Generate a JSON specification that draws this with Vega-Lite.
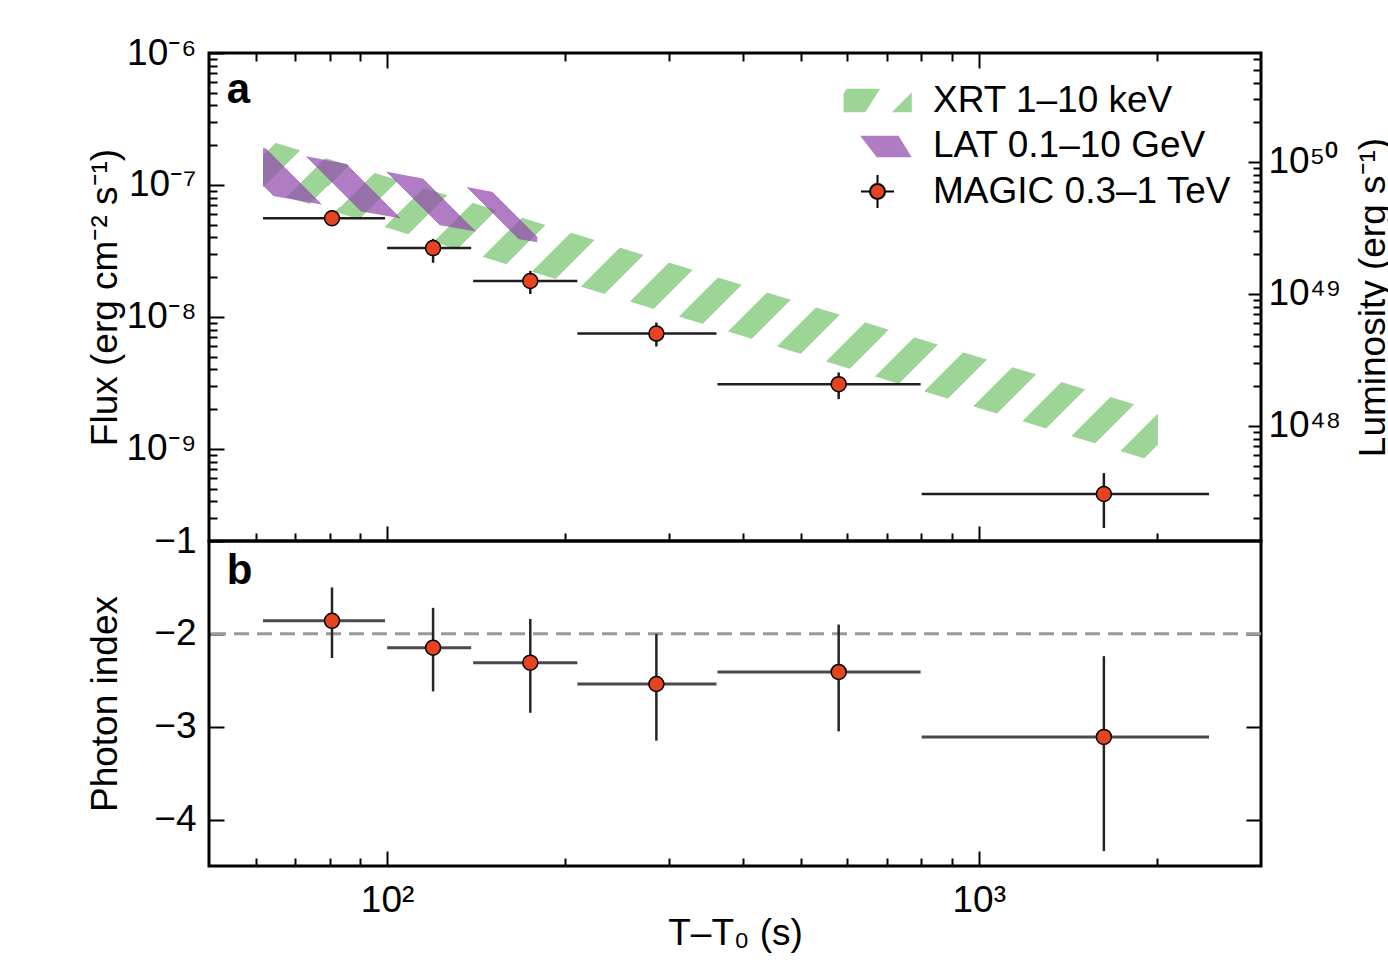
{
  "$schema": "https://vega.github.io/schema/vega-lite/v6.json",
  "autosize": {"type": "pad"},
  "padding": {"left": 84, "top": 32, "right": 0, "bottom": 0},
  "background": "white",
  "spacing": 0,
  "bounds": "flush",
  "config": {
    "font": "Liberation Sans",
    "view": {"stroke": "black", "strokeWidth": 3},
    "axis": {"domain": false, "grid": false, "labelFont": "Liberation Sans", "titleFont": "Liberation Sans", "labelFontSize": 37, "titleFontSize": 37, "titleFontWeight": "normal", "labelColor": "black", "titleColor": "black", "tickColor": "black", "tickWidth": 2, "labelOverlap": false, "labelFlush": false},
    "legend": {"orient": "top-right", "offset": 29, "padding": 0, "labelFont": "Liberation Sans", "labelFontSize": 37, "labelColor": "black", "labelOffset": 37, "rowPadding": 7, "symbolSize": 225, "symbolStrokeWidth": 2, "symbolOpacity": 1, "labelLimit": 0}
  },
  "datasets": {
    "magic": [
      {"t": 80.7, "tlo": 61.7, "thi": 99.2, "f": 5.59e-8, "flo": 4.98e-8, "fhi": 6.35e-8, "g": -1.86, "glo": -2.26, "ghi": -1.50},
      {"t": 119.6, "tlo": 100, "thi": 138.7, "f": 3.32e-8, "flo": 2.57e-8, "fhi": 3.90e-8, "g": -2.15, "glo": -2.62, "ghi": -1.72},
      {"t": 174.6, "tlo": 139.8, "thi": 209.7, "f": 1.87e-8, "flo": 1.49e-8, "fhi": 2.23e-8, "g": -2.31, "glo": -2.85, "ghi": -1.84},
      {"t": 285.2, "tlo": 209.7, "thi": 360.4, "f": 7.47e-9, "flo": 5.96e-9, "fhi": 9.06e-9, "g": -2.54, "glo": -3.15, "ghi": -2.00},
      {"t": 579.8, "tlo": 361.8, "thi": 797.6, "f": 3.09e-9, "flo": 2.38e-9, "fhi": 3.79e-9, "g": -2.41, "glo": -3.05, "ghi": -1.90},
      {"t": 1627.6, "tlo": 800.8, "thi": 2450.5, "f": 4.54e-10, "flo": 2.51e-10, "fhi": 6.55e-10, "g": -3.11, "glo": -4.34, "ghi": -2.24}
    ],
    "xrt": [
      {"t": 61.7, "hi": 2.228e-7, "lo": 9.155e-8},
      {"t": 2008.7, "hi": 1.916e-9, "lo": 7.867e-10}
    ],
    "lat": [
      {"t": 61.7, "hi": 1.901e-7, "lo": 8.50e-8},
      {"t": 179.4, "hi": 7.63e-8, "lo": 3.67e-8}
    ],
    "legend": [
      {"series": "XRT 1–10 keV"},
      {"series": "LAT 0.1–10 GeV"},
      {"series": "MAGIC 0.3–1 TeV"}
    ],
    "labA": [{"label": "a", "t": 53.6, "f": 4.15e-7}],
    "labB": [{"label": "b", "t": 53.6, "g": -1.465}],
    "ref": [{"ref": -2}]
  },
  "vconcat": [
    {
      "width": 1052,
      "height": 488,
      "layer": [
        {
          "data": {"name": "xrt"},
          "mark": {"type": "area", "fill": {"gradient": "linear", "x1": 0, "y1": 0, "x2": 1.20421, "y2": 0.43598, "stops": [
            {"offset": 0, "color": "rgba(255,255,255,0)"},
            {"offset": 0.0139, "color": "rgba(255,255,255,0)"}, {"offset": 0.0139, "color": "#9dd596"}, {"offset": 0.0394, "color": "#9dd596"}, {"offset": 0.0394, "color": "rgba(255,255,255,0)"},
            {"offset": 0.0665, "color": "rgba(255,255,255,0)"}, {"offset": 0.0665, "color": "#9dd596"}, {"offset": 0.0919, "color": "#9dd596"}, {"offset": 0.0919, "color": "rgba(255,255,255,0)"},
            {"offset": 0.1190, "color": "rgba(255,255,255,0)"}, {"offset": 0.1190, "color": "#9dd596"}, {"offset": 0.1445, "color": "#9dd596"}, {"offset": 0.1445, "color": "rgba(255,255,255,0)"},
            {"offset": 0.1716, "color": "rgba(255,255,255,0)"}, {"offset": 0.1716, "color": "#9dd596"}, {"offset": 0.1970, "color": "#9dd596"}, {"offset": 0.1970, "color": "rgba(255,255,255,0)"},
            {"offset": 0.2241, "color": "rgba(255,255,255,0)"}, {"offset": 0.2241, "color": "#9dd596"}, {"offset": 0.2496, "color": "#9dd596"}, {"offset": 0.2496, "color": "rgba(255,255,255,0)"},
            {"offset": 0.2767, "color": "rgba(255,255,255,0)"}, {"offset": 0.2767, "color": "#9dd596"}, {"offset": 0.3022, "color": "#9dd596"}, {"offset": 0.3022, "color": "rgba(255,255,255,0)"},
            {"offset": 0.3293, "color": "rgba(255,255,255,0)"}, {"offset": 0.3293, "color": "#9dd596"}, {"offset": 0.3547, "color": "#9dd596"}, {"offset": 0.3547, "color": "rgba(255,255,255,0)"},
            {"offset": 0.3818, "color": "rgba(255,255,255,0)"}, {"offset": 0.3818, "color": "#9dd596"}, {"offset": 0.4073, "color": "#9dd596"}, {"offset": 0.4073, "color": "rgba(255,255,255,0)"},
            {"offset": 0.4344, "color": "rgba(255,255,255,0)"}, {"offset": 0.4344, "color": "#9dd596"}, {"offset": 0.4599, "color": "#9dd596"}, {"offset": 0.4599, "color": "rgba(255,255,255,0)"},
            {"offset": 0.4869, "color": "rgba(255,255,255,0)"}, {"offset": 0.4869, "color": "#9dd596"}, {"offset": 0.5124, "color": "#9dd596"}, {"offset": 0.5124, "color": "rgba(255,255,255,0)"},
            {"offset": 0.5395, "color": "rgba(255,255,255,0)"}, {"offset": 0.5395, "color": "#9dd596"}, {"offset": 0.5650, "color": "#9dd596"}, {"offset": 0.5650, "color": "rgba(255,255,255,0)"},
            {"offset": 0.5921, "color": "rgba(255,255,255,0)"}, {"offset": 0.5921, "color": "#9dd596"}, {"offset": 0.6175, "color": "#9dd596"}, {"offset": 0.6175, "color": "rgba(255,255,255,0)"},
            {"offset": 0.6446, "color": "rgba(255,255,255,0)"}, {"offset": 0.6446, "color": "#9dd596"}, {"offset": 0.6701, "color": "#9dd596"}, {"offset": 0.6701, "color": "rgba(255,255,255,0)"},
            {"offset": 0.6972, "color": "rgba(255,255,255,0)"}, {"offset": 0.6972, "color": "#9dd596"}, {"offset": 0.7226, "color": "#9dd596"}, {"offset": 0.7226, "color": "rgba(255,255,255,0)"},
            {"offset": 0.7497, "color": "rgba(255,255,255,0)"}, {"offset": 0.7497, "color": "#9dd596"}, {"offset": 0.7752, "color": "#9dd596"}, {"offset": 0.7752, "color": "rgba(255,255,255,0)"},
            {"offset": 0.8023, "color": "rgba(255,255,255,0)"}, {"offset": 0.8023, "color": "#9dd596"}, {"offset": 0.8278, "color": "#9dd596"}, {"offset": 0.8278, "color": "rgba(255,255,255,0)"},
            {"offset": 0.8549, "color": "rgba(255,255,255,0)"}, {"offset": 0.8549, "color": "#9dd596"}, {"offset": 0.8803, "color": "#9dd596"}, {"offset": 0.8803, "color": "rgba(255,255,255,0)"},
            {"offset": 0.9074, "color": "rgba(255,255,255,0)"}, {"offset": 0.9074, "color": "#9dd596"}, {"offset": 0.9329, "color": "#9dd596"}, {"offset": 0.9329, "color": "rgba(255,255,255,0)"},
            {"offset": 0.9600, "color": "rgba(255,255,255,0)"}, {"offset": 0.9600, "color": "#9dd596"}, {"offset": 0.9854, "color": "#9dd596"}, {"offset": 0.9854, "color": "rgba(255,255,255,0)"},
            {"offset": 1, "color": "rgba(255,255,255,0)"}
          ]}},
          "encoding": {
            "x": {"field": "t", "type": "quantitative", "scale": {"type": "log", "domain": [50, 3000], "nice": false},
              "axis": {"orient": "bottom", "values": [60,70,80,90,100,200,300,400,500,600,700,800,900,1000,2000], "tickSize": {"condition": {"test": "datum.value == 100 || datum.value == 1000", "value": -15}, "value": -8}, "labels": false, "title": null}},
            "y": {"field": "hi", "type": "quantitative", "scale": {"type": "log", "domain": [2e-10, 1e-6], "nice": false},
              "axis": {"orient": "left", "values": [3e-10,4e-10,5e-10,6e-10,7e-10,8e-10,9e-10,1e-9,2e-9,3e-9,4e-9,5e-9,6e-9,7e-9,8e-9,9e-9,1e-8,2e-8,3e-8,4e-8,5e-8,6e-8,7e-8,8e-8,9e-8,1e-7,2e-7,3e-7,4e-7,5e-7,6e-7,7e-7,8e-7,9e-7,1e-6],
                "tickSize": {"condition": {"test": "abs(log(datum.value)/LN10 - round(log(datum.value)/LN10)) < 0.001", "value": -15}, "value": -8},
                "labelExpr": "abs(log(datum.value)/LN10 - round(log(datum.value)/LN10)) < 0.001 ? (round(log(datum.value)/LN10) == -6 ? '10⁻⁶' : round(log(datum.value)/LN10) == -7 ? '10⁻⁷' : round(log(datum.value)/LN10) == -8 ? '10⁻⁸' : '10⁻⁹') : ''",
                "labelPadding": 28, "title": "Flux (erg cm⁻² s⁻¹)", "titlePadding": 5, "minExtent": 80, "maxExtent": 80}},
            "y2": {"field": "lo"}
          }
        },
        {
          "data": {"name": "lat"},
          "mark": {"type": "area", "fillOpacity": 0.73, "fill": {"gradient": "linear", "x1": 0, "y1": 1, "x2": 1.2018, "y2": 0.5864, "stops": [
            {"offset": 0, "color": "rgba(255,255,255,0)"},
            {"offset": 0.1534, "color": "rgba(255,255,255,0)"}, {"offset": 0.1534, "color": "#934cae"}, {"offset": 0.2620, "color": "#934cae"}, {"offset": 0.2620, "color": "rgba(255,255,255,0)"},
            {"offset": 0.3489, "color": "rgba(255,255,255,0)"}, {"offset": 0.3489, "color": "#934cae"}, {"offset": 0.4385, "color": "#934cae"}, {"offset": 0.4385, "color": "rgba(255,255,255,0)"},
            {"offset": 0.5254, "color": "rgba(255,255,255,0)"}, {"offset": 0.5254, "color": "#934cae"}, {"offset": 0.6068, "color": "#934cae"}, {"offset": 0.6068, "color": "rgba(255,255,255,0)"},
            {"offset": 0.7019, "color": "rgba(255,255,255,0)"}, {"offset": 0.7019, "color": "#934cae"}, {"offset": 0.7589, "color": "#934cae"}, {"offset": 0.7589, "color": "rgba(255,255,255,0)"},
            {"offset": 1, "color": "rgba(255,255,255,0)"}
          ]}},
          "encoding": {
            "x": {"field": "t", "type": "quantitative", "scale": {"type": "log", "domain": [50, 3000], "nice": false}, "axis": null},
            "y": {"field": "hi", "type": "quantitative", "scale": {"type": "log", "domain": [2e-10, 1e-6], "nice": false}, "axis": null},
            "y2": {"field": "lo"}
          }
        },
        {
          "data": {"name": "magic"},
          "mark": {"type": "rule", "color": "#1e1e1e", "strokeWidth": 2.5},
          "encoding": {
            "x": {"field": "tlo", "type": "quantitative", "scale": {"type": "log", "domain": [50, 3000], "nice": false}, "axis": null},
            "x2": {"field": "thi"},
            "y": {"field": "f", "type": "quantitative", "scale": {"type": "log", "domain": [2e-10, 1e-6], "nice": false}, "axis": null}
          }
        },
        {
          "data": {"name": "magic"},
          "mark": {"type": "rule", "color": "#1e1e1e", "strokeWidth": 2.5},
          "encoding": {
            "x": {"field": "t", "type": "quantitative", "scale": {"type": "log", "domain": [50, 3000], "nice": false}, "axis": null},
            "y": {"field": "flo", "type": "quantitative", "scale": {"type": "log", "domain": [2e-10, 1e-6], "nice": false}, "axis": null},
            "y2": {"field": "fhi"}
          }
        },
        {
          "data": {"name": "magic"},
          "mark": {"type": "point", "shape": "circle", "filled": true, "fill": "#e64420", "stroke": "black", "strokeWidth": 1.5, "size": 225, "opacity": 1},
          "encoding": {
            "x": {"field": "t", "type": "quantitative", "scale": {"type": "log", "domain": [50, 3000], "nice": false}, "axis": null},
            "y": {"field": "f", "type": "quantitative", "scale": {"type": "log", "domain": [2e-10, 1e-6], "nice": false}, "axis": null}
          }
        },
        {
          "data": {"name": "labA"},
          "mark": {"type": "text", "font": "Liberation Sans", "fontSize": 42, "fontWeight": "bold", "align": "left", "baseline": "alphabetic", "color": "black"},
          "encoding": {
            "x": {"field": "t", "type": "quantitative", "scale": {"type": "log", "domain": [50, 3000], "nice": false}, "axis": null},
            "y": {"field": "f", "type": "quantitative", "scale": {"type": "log", "domain": [2e-10, 1e-6], "nice": false}, "axis": null},
            "text": {"field": "label"}
          }
        },
        {
          "data": {"name": "legend"},
          "mark": {"type": "point", "filled": true, "opacity": 0, "size": 225, "strokeWidth": 2},
          "encoding": {
            "shape": {"field": "series", "type": "nominal", "title": null, "scale": {"domain": ["XRT 1–10 keV", "LAT 0.1–10 GeV", "MAGIC 0.3–1 TeV"], "range": ["M-4.09,-1.56L0.36,-1.56L-1.64,1.56L-4.53,1.56L-4.53,-0.93ZM1.91,1.56L4.57,1.56L4.57,-1.11Z", "M-2.31,-1.31L2.8,-1.31L4.57,1.57L-0.09,1.57Z", "M-1,0A1,1,0,1,1,1,0A1,1,0,1,1,-1,0ZM-2.2,0L-1,0M1,0L2.2,0M0,-2.2L0,-1M0,1L0,2.2"]}},
            "fill": {"field": "series", "type": "nominal", "title": null, "scale": {"domain": ["XRT 1–10 keV", "LAT 0.1–10 GeV", "MAGIC 0.3–1 TeV"], "range": ["#9dd596", "#b07cc4", "#e64420"]}},
            "stroke": {"field": "series", "type": "nominal", "title": null, "scale": {"domain": ["XRT 1–10 keV", "LAT 0.1–10 GeV", "MAGIC 0.3–1 TeV"], "range": ["transparent", "transparent", "black"]}}
          }
        },
        {
          "data": {"values": [{}]},
          "mark": {"type": "point", "opacity": 0},
          "encoding": {
            "x": {"datum": 100, "type": "quantitative", "scale": {"type": "log", "domain": [50, 3000], "nice": false},
              "axis": {"orient": "top", "values": [60,70,80,90,100,200,300,400,500,600,700,800,900,1000,2000], "tickSize": {"condition": {"test": "datum.value == 100 || datum.value == 1000", "value": -15}, "value": -8}, "labels": false, "title": null}},
            "y": {"datum": 1e49, "type": "quantitative", "scale": {"type": "log", "domain": [1.3391e47, 6.6957e50], "nice": false},
              "axis": {"orient": "right", "values": [2e47,3e47,4e47,5e47,6e47,7e47,8e47,9e47,1e48,2e48,3e48,4e48,5e48,6e48,7e48,8e48,9e48,1e49,2e49,3e49,4e49,5e49,6e49,7e49,8e49,9e49,1e50,2e50,3e50,4e50,5e50,6e50],
                "tickSize": {"condition": {"test": "abs(log(datum.value)/LN10 - round(log(datum.value)/LN10)) < 0.001", "value": -13}, "value": -8},
                "labelExpr": "abs(log(datum.value)/LN10 - round(log(datum.value)/LN10)) < 0.001 ? (round(log(datum.value)/LN10) == 50 ? '10⁵⁰' : round(log(datum.value)/LN10) == 49 ? '10⁴⁹' : '10⁴⁸') : ''",
                "labelPadding": 20, "title": "Luminosity (erg s⁻¹)", "titleAngle": 270, "titleBaseline": "top", "titlePadding": 4, "minExtent": 90, "maxExtent": 90}}
          }
        }
      ],
      "resolve": {"scale": {"y": "independent"}, "axis": {"x": "independent", "y": "independent"}}
    },
    {
      "width": 1052,
      "height": 325,
      "layer": [
        {
          "data": {"name": "ref"},
          "mark": {"type": "rule", "color": "#9a9a9a", "strokeWidth": 3, "strokeDash": [15, 8]},
          "encoding": {
            "y": {"field": "ref", "type": "quantitative", "scale": {"domain": [-4.5, -1], "nice": false, "zero": false},
              "axis": {"orient": "left", "values": [-1, -2, -3, -4], "tickSize": -15, "labelExpr": "'−' + format(abs(datum.value), 'd')", "labelPadding": 28, "title": "Photon index", "titlePadding": 5, "minExtent": 80, "maxExtent": 80}}
          }
        },
        {
          "data": {"name": "magic"},
          "mark": {"type": "rule", "color": "#4a4a4a", "strokeWidth": 3},
          "encoding": {
            "x": {"field": "tlo", "type": "quantitative", "scale": {"type": "log", "domain": [50, 3000], "nice": false},
              "axis": {"orient": "bottom", "values": [60,70,80,90,100,200,300,400,500,600,700,800,900,1000,2000], "tickSize": {"condition": {"test": "datum.value == 100 || datum.value == 1000", "value": -15}, "value": -8},
                "labelExpr": "datum.value == 100 ? '10²' : datum.value == 1000 ? '10³' : ''", "labelPadding": 31, "title": "T–T₀ (s)", "titlePadding": 5, "minExtent": 44, "maxExtent": 44}},
            "x2": {"field": "thi"},
            "y": {"field": "g", "type": "quantitative", "scale": {"domain": [-4.5, -1], "nice": false, "zero": false}, "axis": null}
          }
        },
        {
          "data": {"name": "magic"},
          "mark": {"type": "rule", "color": "#262626", "strokeWidth": 2.5},
          "encoding": {
            "x": {"field": "t", "type": "quantitative", "scale": {"type": "log", "domain": [50, 3000], "nice": false}, "axis": null},
            "y": {"field": "glo", "type": "quantitative", "scale": {"domain": [-4.5, -1], "nice": false, "zero": false}, "axis": null},
            "y2": {"field": "ghi"}
          }
        },
        {
          "data": {"name": "magic"},
          "mark": {"type": "point", "shape": "circle", "filled": true, "fill": "#e64420", "stroke": "black", "strokeWidth": 1.5, "size": 225, "opacity": 1},
          "encoding": {
            "x": {"field": "t", "type": "quantitative", "scale": {"type": "log", "domain": [50, 3000], "nice": false}, "axis": null},
            "y": {"field": "g", "type": "quantitative", "scale": {"domain": [-4.5, -1], "nice": false, "zero": false}, "axis": null}
          }
        },
        {
          "data": {"name": "labB"},
          "mark": {"type": "text", "font": "Liberation Sans", "fontSize": 42, "fontWeight": "bold", "align": "left", "baseline": "alphabetic", "color": "black"},
          "encoding": {
            "x": {"field": "t", "type": "quantitative", "scale": {"type": "log", "domain": [50, 3000], "nice": false}, "axis": null},
            "y": {"field": "g", "type": "quantitative", "scale": {"domain": [-4.5, -1], "nice": false, "zero": false}, "axis": null},
            "text": {"field": "label"}
          }
        },
        {
          "data": {"values": [{}]},
          "mark": {"type": "point", "opacity": 0},
          "encoding": {
            "y": {"datum": -2, "type": "quantitative", "scale": {"domain": [-4.5, -1], "nice": false, "zero": false},
              "axis": {"orient": "right", "values": [-2, -3, -4], "tickSize": -15, "labels": false, "title": null}}
          }
        }
      ],
      "resolve": {"axis": {"x": "independent", "y": "independent"}}
    }
  ]
}
